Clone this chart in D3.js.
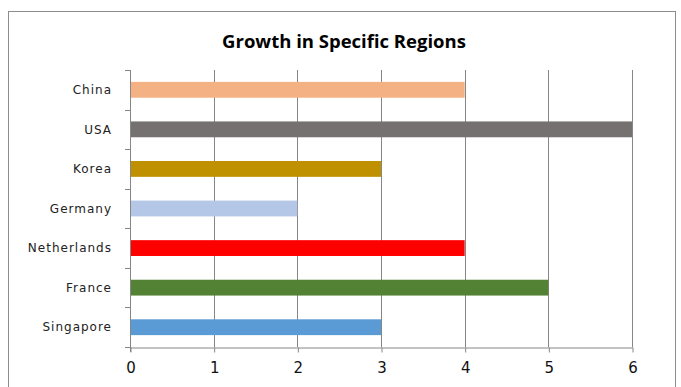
<!DOCTYPE html>
<html>
<head>
<meta charset="utf-8">
<script src="https://cdn.jsdelivr.net/npm/d3@7"></script>
<style>
  html, body { margin: 0; padding: 0; background: #fff; }
  svg { display: block; }
</style>
</head>
<body>
<svg id="chart" width="681" height="387"></svg>
<script>
// Growth values by region, top to bottom
const regions = ["China", "USA", "Korea", "Germany", "Netherlands", "France", "Singapore"];
const growth = [4, 6, 3, 2, 4, 5, 3];
const barColors = ["#F4B183", "#767171", "#BF9000", "#B4C7E7", "#FF0000", "#548235", "#5B9BD5"];
const xTicks = [0, 1, 2, 3, 4, 5, 6];
const title = "Growth in Specific Regions";

const svg = d3.select("#chart");
const plot = { left: 130, right: 632, top: 70, bottom: 347 };

// outer chart frame
svg.append("rect")
  .attr("x", 8.5).attr("y", 11.5)
  .attr("width", 667).attr("height", 390)
  .attr("fill", "#fff").attr("stroke", "#8c8c8c").attr("stroke-width", 1);

svg.append("text")
  .attr("x", 344).attr("y", 48)
  .attr("text-anchor", "middle")
  .attr("font-family", "'Open Sans', 'Liberation Sans', sans-serif")
  .attr("font-weight", "bold")
  .attr("font-size", 18.5)
  .attr("fill", "#000")
  .text(title);

const x = d3.scaleLinear().domain([0, 6]).range([plot.left, plot.right]);
const y = d3.scaleBand().domain(regions).range([plot.top, plot.bottom]).paddingInner(0.6).paddingOuter(0.3);
const yBand = d3.scaleBand().domain(regions).range([plot.top, plot.bottom]);

// vertical gridlines
svg.append("g").selectAll("line")
  .data(xTicks.slice(1))
  .join("line")
  .attr("x1", d => Math.round(x(d)) + 0.5).attr("x2", d => Math.round(x(d)) + 0.5)
  .attr("y1", plot.top).attr("y2", plot.bottom)
  .attr("stroke", "#868686").attr("stroke-width", 1);

// bars
svg.append("g").selectAll("rect")
  .data(regions.map((r, i) => ({ r, v: growth[i], c: barColors[i] })))
  .join("rect")
  .attr("x", x(0))
  .attr("y", d => y(d.r))
  .attr("width", d => x(d.v) - x(0))
  .attr("height", y.bandwidth())
  .attr("fill", d => d.c);

// bottom axis
const xAxis = svg.append("g")
  .attr("transform", `translate(0.5,${plot.bottom + 0.5})`)
  .call(d3.axisBottom(x).tickValues(xTicks).tickSize(5).tickSizeOuter(0).tickFormat(d3.format("d")));
xAxis.select(".domain").attr("stroke", "#868686");
xAxis.selectAll(".tick line").attr("stroke", "#868686");
xAxis.selectAll(".tick text")
  .attr("font-family", "'DejaVu Sans', sans-serif")
  .attr("font-size", 15)
  .attr("fill", "#111")
  .attr("y", 15)
  .attr("dy", "0.71em");

// left axis: ticks at category boundaries
const leftAxis = svg.append("g");
leftAxis.append("line")
  .attr("x1", plot.left + 0.5).attr("x2", plot.left + 0.5)
  .attr("y1", plot.top).attr("y2", plot.bottom + 5)
  .attr("stroke", "#868686");
const bounds = regions.map(r => yBand(r)).concat([plot.bottom]);
leftAxis.selectAll("line.tk")
  .data(bounds)
  .join("line")
  .attr("class", "tk")
  .attr("x1", plot.left - 5).attr("x2", plot.left)
  .attr("y1", d => Math.round(d) + 0.5).attr("y2", d => Math.round(d) + 0.5)
  .attr("stroke", "#868686");
leftAxis.selectAll("text")
  .data(regions)
  .join("text")
  .attr("x", plot.left - 18)
  .attr("y", d => yBand(d) + yBand.bandwidth() / 2)
  .attr("dy", "0.35em")
  .attr("text-anchor", "end")
  .attr("font-family", "'DejaVu Sans', sans-serif")
  .attr("font-size", 12)
  .attr("letter-spacing", "1px")
  .attr("fill", "#222")
  .text(d => d);
</script>
</body>
</html>
